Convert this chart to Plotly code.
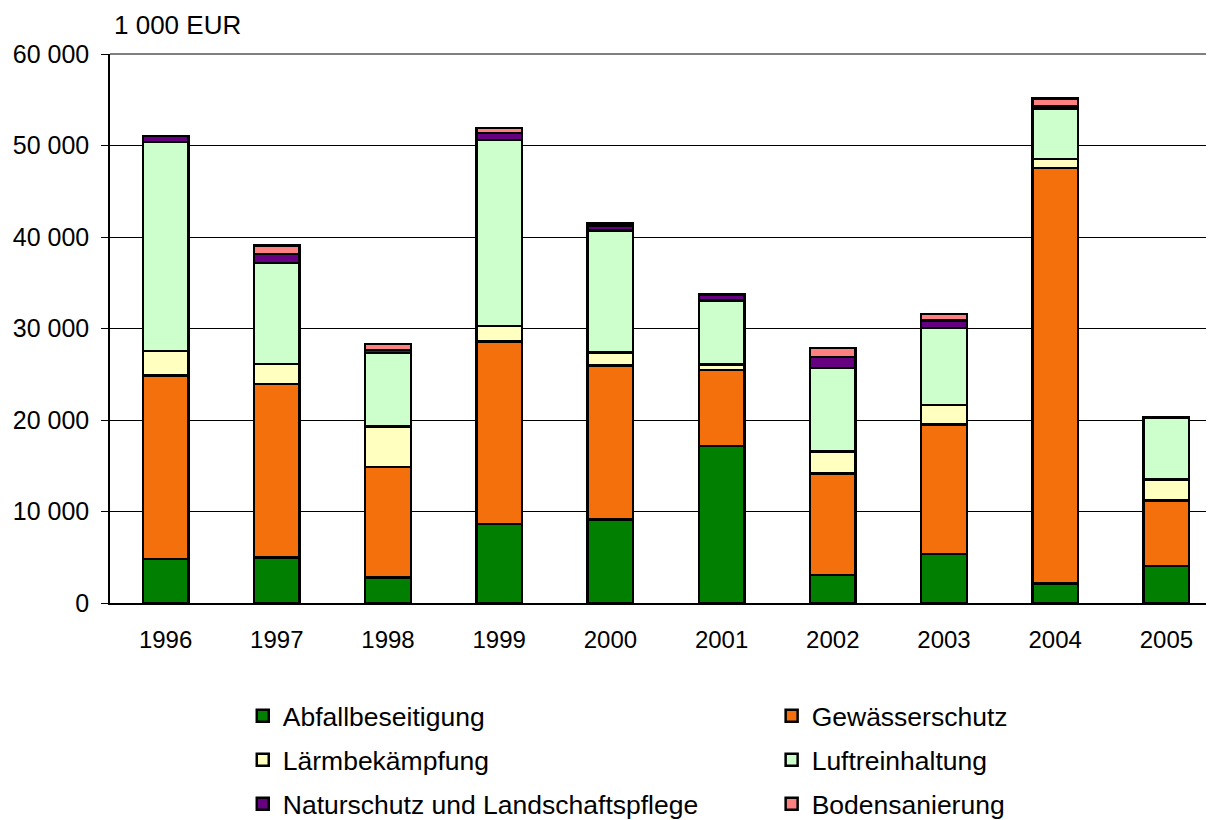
import plotly.graph_objects as go

years = ["1996", "1997", "1998", "1999", "2000", "2001", "2002", "2003", "2004", "2005"]

abfall = [4800, 4950, 2800, 8630, 9150, 17160, 3060, 5360, 2150, 4040]
gewaesser = [20050, 19000, 12050, 19930, 16780, 8300, 11110, 14170, 45400, 7140]
laerm = [2700, 2150, 4420, 1710, 1430, 630, 2370, 2110, 950, 2340]
luft = [22850, 11050, 8030, 20330, 13330, 6950, 9160, 8410, 5500, 6770]
natur = [650, 1000, 350, 750, 550, 700, 1200, 850, 250, 0]
boden = [0, 900, 650, 550, 250, 0, 950, 700, 900, 0]

names = ["Abfallbeseitigung", "Gewässerschutz", "Lärmbekämpfung",
         "Luftreinhaltung", "Naturschutz und Landschaftspflege", "Bodensanierung"]
values = [abfall, gewaesser, laerm, luft, natur, boden]
colors = ["#007F00", "#F3700C", "#FFFFC0", "#CCFFCC", "#660080", "#FF8080"]

FONT = "Liberation Sans, Arial, sans-serif"

# one legend per entry -> 2 columns x 3 rows, like the original
leg_x = [0.1194, 0.595]
leg_y = [-0.206, -0.286, -0.366]

fig = go.Figure()
legends = {}
for i, (name, vals, color) in enumerate(zip(names, values, colors)):
    key = "legend" if i == 0 else f"legend{i + 1}"
    fig.add_trace(go.Bar(
        x=years,
        y=vals,
        name=name,
        legend=key,
        marker=dict(color=color, line=dict(color="black", width=2.5)),
        hovertemplate="<b>%{fullData.name}</b><br>%{x}: %{y:,.0f}<extra></extra>",
    ))
    legends[key] = dict(
        x=leg_x[i % 2],
        y=leg_y[i // 2],
        xanchor="left",
        yanchor="middle",
        font=dict(family=FONT, size=26.5, color="black"),
        bgcolor="rgba(0,0,0,0)",
    )

fig.update_layout(
    width=1214,
    height=820,
    barmode="stack",
    bargap=0.59,
    separators=", ",
    paper_bgcolor="white",
    plot_bgcolor="white",
    font=dict(family=FONT, size=24, color="black"),
    # page adds an 8px body margin, so shift everything up/left a bit
    margin=dict(l=102, r=0, t=46, b=225, autoexpand=False),
    showlegend=True,
    **legends,
    xaxis=dict(
        automargin=False,
        showline=True,
        linecolor="black",
        linewidth=1.5,
        ticks="",
        ticklabelstandoff=14,
        tickfont=dict(family=FONT, size=24, color="black"),
    ),
    yaxis=dict(
        automargin=False,
        range=[0, 60000],
        dtick=10000,
        tickformat=",d",
        showline=True,
        linecolor="black",
        linewidth=1.5,
        ticks="outside",
        ticklen=7,
        tickcolor="black",
        ticklabelstandoff=7,
        showgrid=True,
        gridcolor="black",
        gridwidth=1,
        zeroline=False,
        tickfont=dict(family=FONT, size=25, color="black"),
    ),
    annotations=[dict(
        text="1 000 EUR",
        xref="paper", yref="paper",
        x=0.002, y=1.083,
        xanchor="left", yanchor="top",
        showarrow=False,
        font=dict(family=FONT, size=26, color="black"),
    )],
)

# top border of plot area
fig.add_shape(type="line", xref="paper", yref="paper", x0=0, x1=1, y0=1, y1=1,
              line=dict(color="black", width=1))

fig.write_html("out.html")
